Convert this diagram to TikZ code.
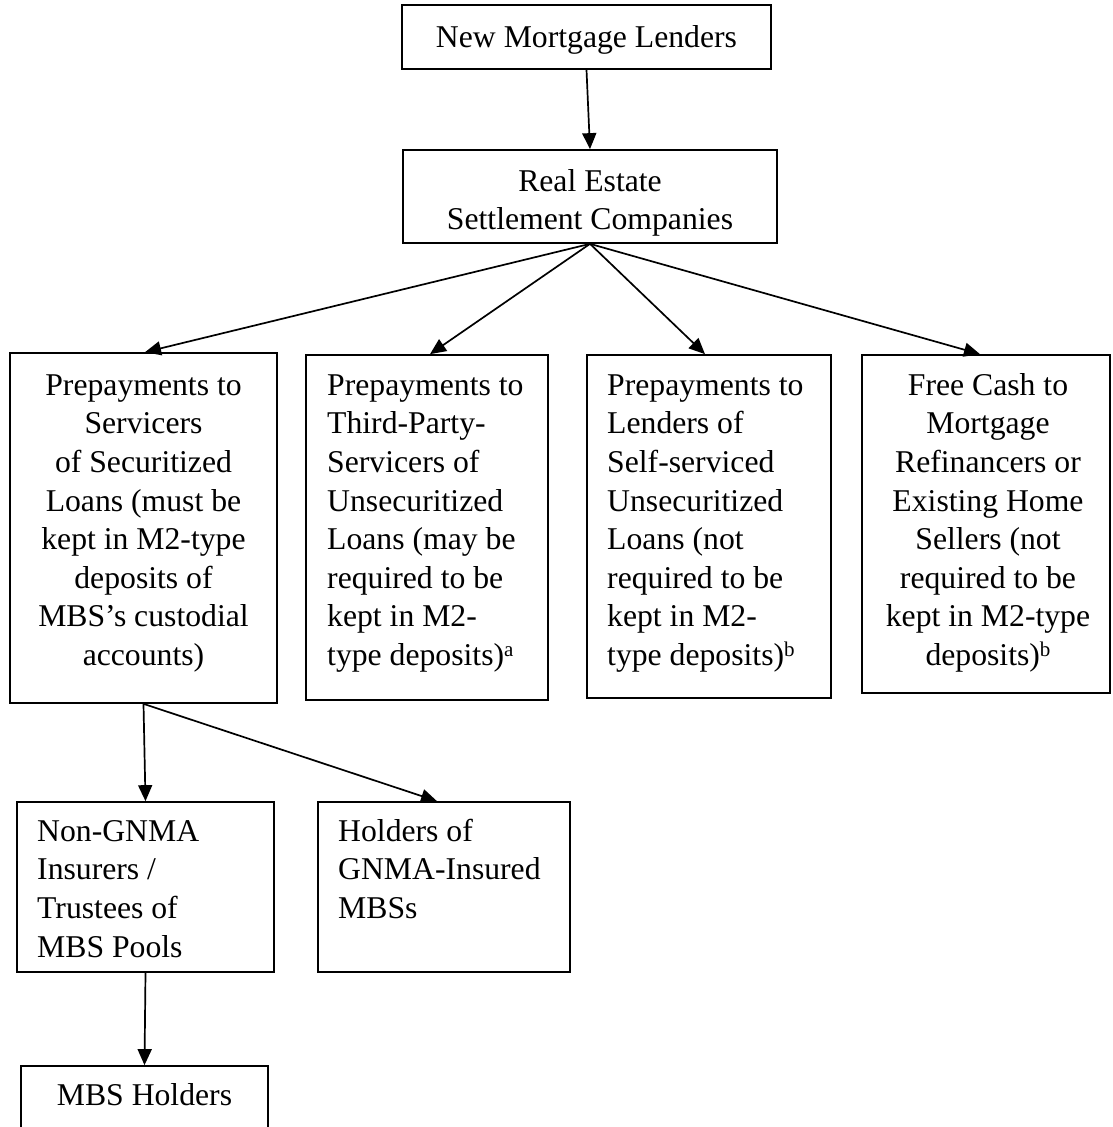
\documentclass[tikz,border=0pt]{standalone}
\usepackage{fontspec}
\setmainfont{Liberation Serif}
\usetikzlibrary{arrows.meta}
\newcommand{\supmark}[1]{\raisebox{9pt}{\fontsize{21}{21}\selectfont #1}}
\begin{document}
\begin{tikzpicture}[x=1pt,y=-1pt,
  box/.style={draw, line width=1.7pt, inner sep=0pt},
  txt/.style={inner sep=0pt, font=\fontsize{31.7}{38.6}\selectfont},
  arr/.style={-{Triangle[length=16pt,width=14pt]}, line width=1.7pt}]
\useasboundingbox (0,0) rectangle (1112,1127);
\clip (0,0) rectangle (1112,1127);
% boxes
\node[box, minimum width=369pt, minimum height=64pt]  (nml)  at (586.5,37)   {};
\node[box, minimum width=374pt, minimum height=93pt]  (resc) at (590,196.5)  {};
\node[box, minimum width=267pt, minimum height=350pt] (pa)   at (143.5,528)  {};
\node[box, minimum width=242pt, minimum height=345pt] (pb)   at (427,527.5)  {};
\node[box, minimum width=244pt, minimum height=343pt] (pc)   at (709,526.5)  {};
\node[box, minimum width=248pt, minimum height=338pt] (pd)   at (986,524)    {};
\node[box, minimum width=257pt, minimum height=170pt] (ne)   at (145.5,887)  {};
\node[box, minimum width=252pt, minimum height=170pt] (nf)   at (444,887)    {};
\node[box, minimum width=247pt, minimum height=90pt]  (ng)   at (144.5,1111) {};
% texts
\node[txt, anchor=north] (tnml) at (586.5,21) {\rule{0pt}{26pt}New Mortgage Lenders};
\node[txt, anchor=north, align=center] (tresc) at (590,165) {\rule{0pt}{26pt}Real Estate\\Settlement Companies};
\node[txt, anchor=north, align=center] (ta) at (143.5,369) {\rule{0pt}{26pt}Prepayments to\\Servicers\\of Securitized\\Loans (must be\\kept in M2-type\\deposits of\\MBS’s custodial\\accounts)};
\node[txt, anchor=north west, align=left] (tb) at (327,369) {\rule{0pt}{26pt}Prepayments to\\Third-Party-\\Servicers of\\Unsecuritized\\Loans (may be\\required to be\\kept in M2-\\type deposits)\supmark{a}};
\node[txt, anchor=north west, align=left] (tc) at (607,369) {\rule{0pt}{26pt}Prepayments to\\Lenders of\\Self-serviced\\Unsecuritized\\Loans (not\\required to be\\kept in M2-\\type deposits)\supmark{b}};
\node[txt, anchor=north, align=center] (td) at (988,369) {\rule{0pt}{26pt}Free Cash to\\Mortgage\\Refinancers or\\Existing Home\\Sellers (not\\required to be\\kept in M2-type\\deposits)\supmark{b}};
\node[txt, anchor=north west, align=left] (te) at (37,815) {\rule{0pt}{26pt}Non-GNMA\\Insurers /\\Trustees of\\MBS Pools};
\node[txt, anchor=north west, align=left] (tf) at (338,815) {\rule{0pt}{26pt}Holders of\\GNMA-Insured\\MBSs};
\node[txt, anchor=north] (tg) at (144.5,1079) {\rule{0pt}{26pt}MBS Holders};
% connectors
\draw[arr] (nml.south) -- (resc.north);
\draw[arr] (resc.south) -- ([xshift=1.5pt]pa.north);
\draw[arr] (resc.south) -- ([xshift=3pt]pb.north);
\draw[arr] (resc.south) -- ([xshift=-4pt]pc.north);
\draw[arr] (resc.south) -- ([xshift=-6pt]pd.north);
\draw[arr] (pa.south) -- (ne.north);
\draw[arr] (pa.south) -- ([xshift=-7pt]nf.north);
\draw[arr] (ne.south) -- (ng.north);
\end{tikzpicture}
\end{document}
